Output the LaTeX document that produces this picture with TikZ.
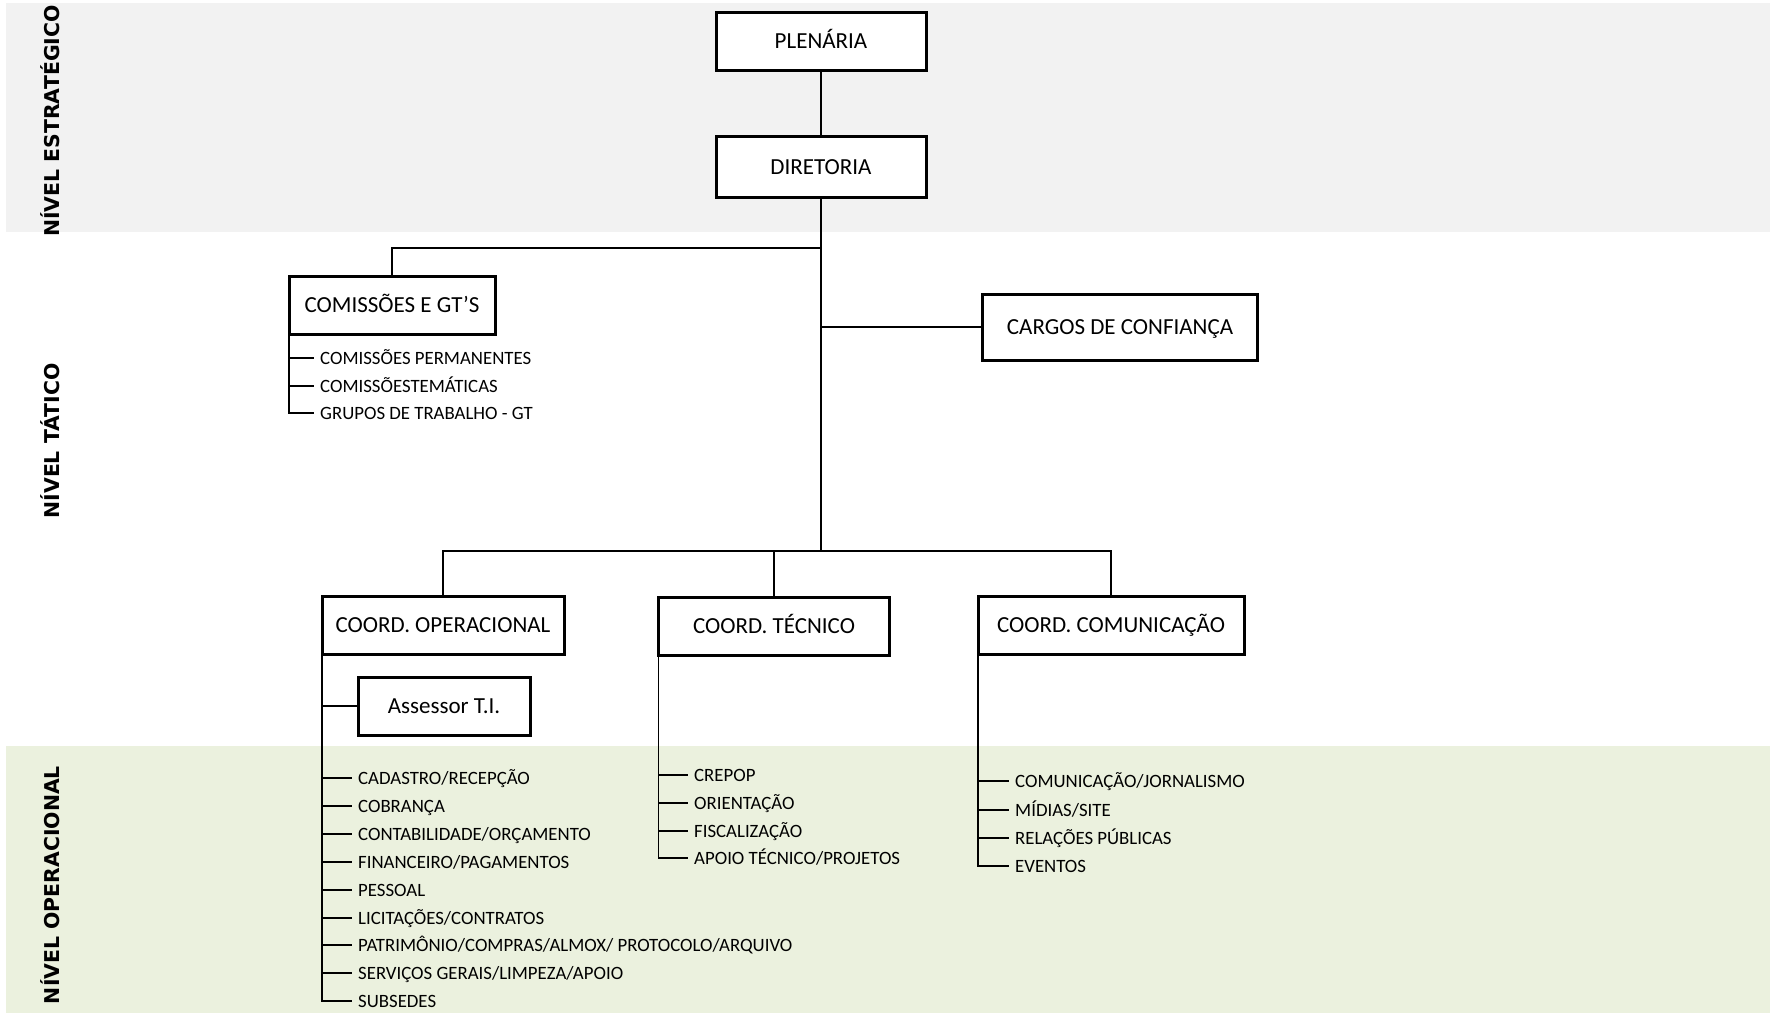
\documentclass[tikz,border=0pt]{standalone}
\usepackage{fontspec}
\setmainfont{Carlito}
\newfontfamily\levelfont{DejaVu Sans}
\usepackage{tikz}
\usetikzlibrary{positioning}
\usepackage{xcolor}
\definecolor{bandgray}{RGB}{242, 242, 242}
\definecolor{bandgreen}{RGB}{235, 241, 222}

\begin{document}
\begin{tikzpicture}[
            x=1pt, y=-1pt,
            box/.style={
                rectangle,
                draw=black,
                fill=white,
                line width=3pt,
                outer sep=0pt,
                inner sep=0pt,
                minimum height=58pt,
                text height=14.8pt,
                text depth=0pt,
                font=\fontsize{23}{26}\selectfont
            },
            item/.style={
                anchor=west,
                inner xsep=6pt,
                inner ysep=0pt,
                text height=12.1pt,
                text depth=0pt,
                font=\fontsize{18.8}{21}\selectfont
            },
            level/.style={rotate=90, font=\levelfont\bfseries\fontsize{20.4}{23}\selectfont},
            link/.style={line width=1.5pt}
        ]
            \useasboundingbox (0,0) rectangle (1773,1013);

            % Bands
            \fill[bandgray] (6,3) rectangle (1770,232);
            \fill[bandgreen] (6,746) rectangle (1770,1013);

            \node[level] (lvstrat) at (50,121) {NÍVEL ESTRATÉGICO};
            \node[level] (lvtat) at (50,441) {NÍVEL TÁTICO};
            \node[level] (lvop) at (50,885) {NÍVEL OPERACIONAL};

            % Nodes
            \node[box, minimum width=210pt] (plen) at (821,41) {PLENÁRIA};
            \node[box, minimum width=210pt, minimum height=61pt] (dir) at (821,167) {DIRETORIA};
            \node[box, minimum width=206pt] (comis) at (392,305) {COMISSÕES E GT’S};
            \node[box, minimum width=275pt, minimum height=66pt] (conf) at (1120,327) {CARGOS DE CONFIANÇA};
            \node[box, minimum width=242pt] (coop) at (443,625) {COORD. OPERACIONAL};
            \node[box, minimum width=231pt] (ctec) at (774,626) {COORD. TÉCNICO};
            \node[box, minimum width=266pt] (ccom) at (1111,625) {COORD. COMUNICAÇÃO};
            \node[box, minimum width=172pt] (ass) at (444,706) {Assessor T.I.};

            \coordinate (hub) at (821,248);
            \coordinate (trust) at (821,327);
            \coordinate (split) at (821,551);

            % Lists
            \node[item] (ci1) at (314,358) {COMISSÕES PERMANENTES};
            \node[item] (ci2) at (314,386) {COMISSÕESTEMÁTICAS};
            \node[item] (ci3) at (314,413) {GRUPOS DE TRABALHO - GT};

            \node[item] (op1) at (352,778) {CADASTRO/RECEPÇÃO};
            \node[item] (op2) at (352,806) {COBRANÇA};
            \node[item] (op3) at (352,834) {CONTABILIDADE/ORÇAMENTO};
            \node[item] (op4) at (352,862) {FINANCEIRO/PAGAMENTOS};
            \node[item] (op5) at (352,890) {PESSOAL};
            \node[item] (op6) at (352,918) {LICITAÇÕES/CONTRATOS};
            \node[item] (op7) at (352,945) {PATRIMÔNIO/COMPRAS/ALMOX/ PROTOCOLO/ARQUIVO};
            \node[item] (op8) at (352,973) {SERVIÇOS GERAIS/LIMPEZA/APOIO};
            \node[item] (op9) at (352,1001) {SUBSEDES};

            \node[item] (tc1) at (688,775) {CREPOP};
            \node[item] (tc2) at (688,803) {ORIENTAÇÃO};
            \node[item] (tc3) at (688,831) {FISCALIZAÇÃO};
            \node[item] (tc4) at (688,858) {APOIO TÉCNICO/PROJETOS};

            \node[item] (cm1) at (1009,781) {COMUNICAÇÃO/JORNALISMO};
            \node[item] (cm2) at (1009,810) {MÍDIAS/SITE};
            \node[item] (cm3) at (1009,838) {RELAÇÕES PÚBLICAS};
            \node[item] (cm4) at (1009,866) {EVENTOS};

            % Lines
            \draw[link] (plen) -- (dir);
            \draw[link] (dir) -- (split);
            \draw[link] (hub) -| (comis);
            \draw[link] (trust) -- (conf);
            \draw[link] (coop) |- (split) -| (ccom);
            \draw[link] (ctec) -- (ctec |- split);

            \draw[link] (comis.south west) |- (ci3);
            \draw[link] (comis.south west |- ci1.west) -- (ci1.west);
            \draw[link] (comis.south west |- ci2.west) -- (ci2.west);

            \draw[link] (coop.south west) |- (op9);
            \draw[link] (coop.south west |- ass.west) -- (ass.west);
            \draw[link] (coop.south west |- op1.west) -- (op1.west);
            \draw[link] (coop.south west |- op2.west) -- (op2.west);
            \draw[link] (coop.south west |- op3.west) -- (op3.west);
            \draw[link] (coop.south west |- op4.west) -- (op4.west);
            \draw[link] (coop.south west |- op5.west) -- (op5.west);
            \draw[link] (coop.south west |- op6.west) -- (op6.west);
            \draw[link] (coop.south west |- op7.west) -- (op7.west);
            \draw[link] (coop.south west |- op8.west) -- (op8.west);

            \draw[link] (ctec.south west) |- (tc4);
            \draw[link] (ctec.south west |- tc1.west) -- (tc1.west);
            \draw[link] (ctec.south west |- tc2.west) -- (tc2.west);
            \draw[link] (ctec.south west |- tc3.west) -- (tc3.west);

            \draw[link] (ccom.south west) |- (cm4);
            \draw[link] (ccom.south west |- cm1.west) -- (cm1.west);
            \draw[link] (ccom.south west |- cm2.west) -- (cm2.west);
            \draw[link] (ccom.south west |- cm3.west) -- (cm3.west);
        \end{tikzpicture}
\end{document}
